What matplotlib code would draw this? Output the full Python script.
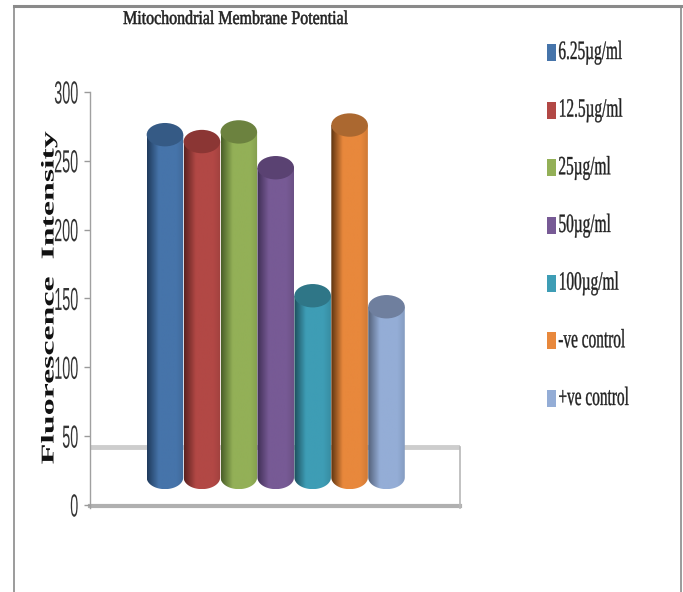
import numpy as np
import matplotlib
matplotlib.use('Agg')
import matplotlib.pyplot as plt
from matplotlib import patheffects
from matplotlib.colors import to_rgb
from matplotlib.patches import Ellipse, Polygon, Rectangle
from matplotlib.transforms import Affine2D

# Fluorescence readings per treatment
groups = ['6.25µg/ml', '12.5µg/ml', '25µg/ml', '50µg/ml', '100µg/ml', '-ve control', '+ve control']
values = [269, 264, 271, 245, 152, 276, 144]
y_ticks = [0, 50, 100, 150, 200, 250, 300]

main_colors = ['#4674AA', '#B24845', '#93B057', '#775A95', '#3E9DB5', '#E8883C', '#94ADD6']
edge_colors = ['#1F3A5C', '#5C2220', '#4A5F28', '#3F2E55', '#1C4E5C', '#5E3410', '#54617A']
cap_colors = ['#355A85', '#8B3634', '#6C823F', '#5A4272', '#2F7687', '#AB6830', '#6F7F9E']

W, H = 683, 592
BASE = 20        # centre of the cylinder foot, in axis units
CAP_H = 17       # ellipse height, in axis units
BAR_W = 0.99


class Squeeze(patheffects.AbstractPathEffect):
    # scales the glyph outlines, keeps the chosen edge of the text in place
    def __init__(self, sx, sy=1.0, anchor=0.0, stroke=0.0):
        super().__init__()
        self.sx, self.sy, self.anchor, self.stroke = sx, sy, anchor, stroke

    def draw_path(self, renderer, gc, tpath, affine, rgbFace=None):
        ext = tpath.get_extents()
        pivot = ext.x0 + self.anchor * ext.width
        t = Affine2D().translate(-pivot, 0).scale(self.sx, self.sy).translate(pivot, 0)
        gc2 = renderer.new_gc()
        gc2.copy_properties(gc)
        if self.stroke:
            gc2.set_foreground(rgbFace)
            gc2.set_linewidth(self.stroke)
        renderer.draw_path(gc2, tpath, t + affine, rgbFace)
        gc2.restore()


fig = plt.figure(figsize=(W / 100, H / 100), dpi=100, facecolor='white')

# pixel-sized layer for the frame, title and key
page = fig.add_axes([0, 0, 1, 1], zorder=3)
page.set_xlim(0, W)
page.set_ylim(H, 0)
page.axis('off')
page.patch.set_alpha(0)

page.plot([14, 14], [H, 6], color='#8A8A8A', lw=1.2)
page.plot([14, 681], [6, 6], color='#8A8A8A', lw=2.2)
page.plot([681, 681], [6, H], color='#8A8A8A', lw=1.2)

page.text(123, 24, 'Mitochondrial Membrane Potential', family='Liberation Serif', fontsize=14,
          color='#222222', ha='left', va='baseline',
          path_effects=[Squeeze(0.82, stroke=0.4)])
page.text(49, 298, 'Fluorescence  Intensity', family='Liberation Serif', fontsize=13, weight='bold',
          color='#111111', rotation=90, ha='center', va='center',
          path_effects=[Squeeze(1.88, anchor=0.5)])

# key on the right
key_rows = np.linspace(52, 398, len(groups))
for row, name, col in zip(key_rows, groups, main_colors):
    page.add_patch(Rectangle((547, row - 8), 9, 17, color=col, lw=0))
    page.text(558, row + 7, name, family='Liberation Serif', fontsize=17, color='#222222',
              va='baseline', path_effects=[Squeeze(0.65, sy=1.12, stroke=0.25)])

# main plot area
ax = fig.add_axes([90 / W, 1 - 508 / H, 370 / W, 416 / H], zorder=2)
ax.patch.set_alpha(0)

# chart floor
ax.axhline(42, color='#CDCDCD', lw=3.5, zorder=1)
ax.axhline(-1.0, color='#B0B0B0', lw=3, zorder=1, clip_on=False)
ax.axvline(7.99, ymin=0.0, ymax=0.146, color='#B8B8B8', lw=1.2, zorder=1, clip_on=False)

# cylinders
xs = np.arange(len(values))
stops = np.linspace(0, 1, 80)
theta = np.linspace(np.pi, 2 * np.pi, 60)
for x, v, main, edge, cap in zip(xs, values, main_colors, edge_colors, cap_colors):
    m, e = np.array(to_rgb(main)), np.array(to_rgb(edge))
    grad = np.stack([np.interp(stops, [0, 0.32, 0.8, 1], [e[i], m[i], m[i], m[i] * 0.9]) for i in range(3)], axis=1)
    im = ax.imshow(grad[None, :, :], extent=[x - BAR_W / 2, x + BAR_W / 2, BASE - CAP_H / 2, v],
                   aspect='auto', zorder=2 + x * 0.1, interpolation='bilinear')
    foot = np.column_stack([x + BAR_W / 2 * np.cos(theta), BASE + CAP_H / 2 * np.sin(theta)])
    outline = np.vstack([[x - BAR_W / 2, v], foot, [x + BAR_W / 2, v]])
    im.set_clip_path(Polygon(outline, closed=True, transform=ax.transData))
    ax.add_patch(Ellipse((x, v), BAR_W, CAP_H, facecolor=cap, edgecolor='none', zorder=2.05 + x * 0.1))

ax.set_xlim(-2.03, 7.99)
ax.set_ylim(-2.2, 300)
ax.set_xticks([])
ax.set_yticks(y_ticks)
ax.set_yticklabels([str(t) for t in y_ticks], family='Liberation Sans', fontsize=23, color='#333333',
                   path_effects=[Squeeze(0.45, anchor=1.0)])
ax.tick_params(axis='y', length=4, width=1, color='#9A9A9A', pad=4)
for side in ['top', 'right', 'bottom']:
    ax.spines[side].set_visible(False)
ax.spines['left'].set_color('#A0A0A0')
ax.spines['left'].set_linewidth(1)

fig.savefig('out.png', dpi=100)
